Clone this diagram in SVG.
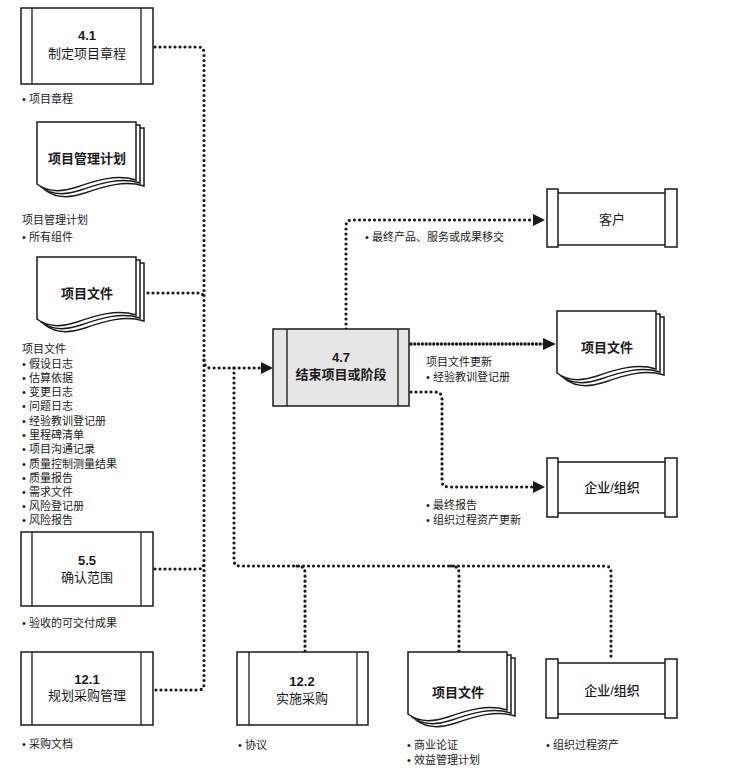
<svg xmlns="http://www.w3.org/2000/svg" xmlns:xlink="http://www.w3.org/1999/xlink" width="730" height="775" viewBox="0 0 730 775">
<style>
text{font-family:"Liberation Sans","Noto Sans CJK SC",sans-serif;fill:#1a1a1a;dominant-baseline:central}
.t{font-size:13px;text-anchor:middle}
.b{font-weight:bold}
.m{font-weight:500}
.l{font-size:11px}
.box{fill:#fff;stroke:#1a1a1a;stroke-width:1.5}
.gray{fill:#e6e6e6;stroke:#1a1a1a;stroke-width:1.5}
.ln{stroke:#1a1a1a;stroke-width:1.3;fill:none}
.dot{fill:none;stroke:#1a1a1a;stroke-width:3.2;stroke-dasharray:0 5;stroke-linecap:round}
.dense{fill:none;stroke:#1a1a1a;stroke-width:3.4;stroke-dasharray:0 3.8;stroke-linecap:round}
.ah{fill:#1a1a1a}
</style>
<defs>
<g id="doc">
<path class="box" d="M8,6 H107 V64 C88,58 68,64 48,71 C33,76 18,76 8,68 Z"/>
<path class="box" d="M4,3 H103 V61 C84,55 64,61 44,68 C29,73 14,73 4,65 Z"/>
<path class="box" d="M0,0 H99 V58 C80,52 60,58 40,65 C25,70 10,70 0,62 Z"/>
</g>
</defs>

<g id="connectors">
<path class="dot" d="M155,47 H198 Q204,47 204,53 V684 Q204,690 198,690 H155"/>
<path class="dot" d="M148,293 H198 Q204,293 204,299"/>
<path class="dot" d="M155,569 H198 Q204,569 204,563"/>
<path class="dot" d="M204,360 Q204,368 211,368 H261"/>
<polygon class="ah" points="261,362 273,368 261,374"/>
<path class="dot" d="M234,368 V560 Q234,566 240,566 H605 Q611,566 611,572 V659"/>
<path class="dot" d="M297,566 Q305,566 305,573 V652"/>
<path class="dot" d="M451,566 Q459,566 459,573 V652"/>
<path class="dot" d="M346,329 V226 Q346,220 352,220 H533"/>
<polygon class="ah" points="533,214 545,220 533,226"/>
<path class="dense" d="M411,344 H544"/>
<polygon class="ah" points="543,338 556,344 543,350"/>
<path class="dot" d="M411,392 H435 Q442,392 442,399 V481 Q442,487 449,487 H533"/>
<polygon class="ah" points="533,481 545,487 533,493"/>
</g>

<g id="n41">
<rect class="box" x="21" y="8" width="132" height="76"/>
<line class="ln" x1="32" y1="8" x2="32" y2="84"/>
<line class="ln" x1="141" y1="8" x2="141" y2="84"/>
<text class="t b" x="87" y="35">4.1</text>
<text class="t" x="87" y="53">制定项目章程</text>
<text class="l" x="22" y="99">• 项目章程</text>
</g>

<g id="pmplan">
<use xlink:href="#doc" x="37" y="122"/>
<text class="t b" x="87" y="158">项目管理计划</text>
<text class="l" x="22" y="220">项目管理计划</text>
<text class="l" x="22" y="237">• 所有组件</text>
</g>

<g id="projdocs-in">
<use xlink:href="#doc" x="37" y="257"/>
<text class="t b" x="87" y="293">项目文件</text>
<text class="l" x="22" y="349">项目文件</text>
<text class="l" x="22" y="364">• 假设日志</text>
<text class="l" x="22" y="378">• 估算依据</text>
<text class="l" x="22" y="392">• 变更日志</text>
<text class="l" x="22" y="406">• 问题日志</text>
<text class="l" x="22" y="421">• 经验教训登记册</text>
<text class="l" x="22" y="435">• 里程碑清单</text>
<text class="l" x="22" y="449">• 项目沟通记录</text>
<text class="l" x="22" y="464">• 质量控制测量结果</text>
<text class="l" x="22" y="478">• 质量报告</text>
<text class="l" x="22" y="492">• 需求文件</text>
<text class="l" x="22" y="506">• 风险登记册</text>
<text class="l" x="22" y="520">• 风险报告</text>
</g>

<g id="n55">
<rect class="box" x="21" y="532" width="132" height="74"/>
<line class="ln" x1="32" y1="532" x2="32" y2="606"/>
<line class="ln" x1="141" y1="532" x2="141" y2="606"/>
<text class="t b" x="87" y="560">5.5</text>
<text class="t" x="87" y="577">确认范围</text>
<text class="l" x="22" y="623">• 验收的可交付成果</text>
</g>

<g id="n121">
<rect class="box" x="21" y="652" width="132" height="73"/>
<line class="ln" x1="32" y1="652" x2="32" y2="725"/>
<line class="ln" x1="141" y1="652" x2="141" y2="725"/>
<text class="t b" x="87" y="679">12.1</text>
<text class="t" x="87" y="695">规划采购管理</text>
<text class="l" x="22" y="744">• 采购文档</text>
</g>

<g id="n47">
<rect class="gray" x="273" y="329" width="136" height="77"/>
<line class="ln" x1="287" y1="329" x2="287" y2="406"/>
<line class="ln" x1="398" y1="329" x2="398" y2="406"/>
<text class="t b" x="341" y="357">4.7</text>
<text class="t b" x="341" y="374">结束项目或阶段</text>
</g>

<g id="customer">
<rect class="box" x="557" y="193" width="109" height="52"/>
<rect class="box" x="547" y="189" width="11" height="58"/>
<rect class="box" x="665" y="189" width="12" height="58"/>
<text class="t" x="612" y="219">客户</text>
<text class="l" x="365" y="237">• 最终产品、服务或成果移交</text>
</g>

<g id="projdocs-out">
<use xlink:href="#doc" x="557" y="311"/>
<text class="t b" x="607" y="347">项目文件</text>
<text class="l" x="426" y="362">项目文件更新</text>
<text class="l" x="426" y="377">• 经验教训登记册</text>
</g>

<g id="org-out">
<rect class="box" x="557" y="462" width="109" height="51"/>
<rect class="box" x="547" y="458" width="11" height="59"/>
<rect class="box" x="665" y="458" width="12" height="59"/>
<text class="t m" x="612" y="487">企业/组织</text>
<text class="l" x="426" y="505">• 最终报告</text>
<text class="l" x="426" y="520">• 组织过程资产更新</text>
</g>

<g id="n122">
<rect class="box" x="237" y="652" width="131" height="73"/>
<line class="ln" x1="249" y1="652" x2="249" y2="725"/>
<line class="ln" x1="357" y1="652" x2="357" y2="725"/>
<text class="t b" x="302" y="681">12.2</text>
<text class="t" x="302" y="698">实施采购</text>
<text class="l" x="238" y="745">• 协议</text>
</g>

<g id="projdocs-in2">
<use xlink:href="#doc" x="408" y="652"/>
<text class="t b" x="458" y="692">项目文件</text>
<text class="l" x="407" y="745">• 商业论证</text>
<text class="l" x="407" y="760">• 效益管理计划</text>
</g>

<g id="org-in">
<rect class="box" x="557" y="663" width="109" height="51"/>
<rect class="box" x="546" y="659" width="12" height="59"/>
<rect class="box" x="665" y="659" width="12" height="59"/>
<text class="t m" x="612" y="690">企业/组织</text>
<text class="l" x="546" y="745">• 组织过程资产</text>
</g>
</svg>
